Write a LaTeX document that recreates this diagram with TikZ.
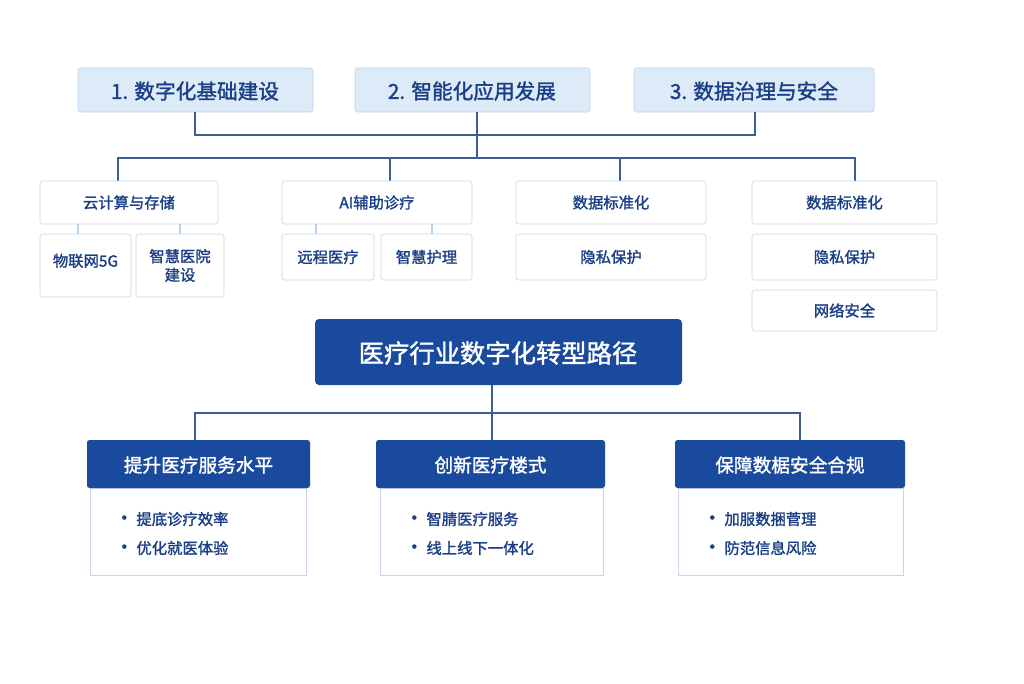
\documentclass[tikz,border=0pt]{standalone}
\usepackage{fontspec}
\setmainfont{Noto Sans CJK SC}[FakeBold=1.5]
\begin{document}
\definecolor{navy}{HTML}{1B3F86}
\definecolor{dblue}{HTML}{1A4A9E}
\definecolor{lblue}{HTML}{DDEBF8}
\definecolor{lbord}{HTML}{B9D0E8}
\definecolor{gbord}{HTML}{C9D6E6}
\definecolor{line}{HTML}{3C5F93}
\begin{tikzpicture}[x=0.75pt,y=-0.75pt,
 top/.style={draw=lbord,fill=lblue,rounded corners=2pt},
 sub/.style={draw=gbord,fill=white,rounded corners=2pt},
 bd/.style={draw=gbord,fill=white},
 ln/.style={draw=line,line width=0.9pt},
 tt/.style={text=navy,font=\fontsize{15.5}{17}\selectfont},
 st/.style={text=navy,font=\fontsize{11.5}{14}\selectfont,align=center}]
\useasboundingbox (0,0) rectangle (1024,683);
\def\bx#1#2#3#4#5#6#7{\path[#2] (#3,#4) rectangle (#5,#6); \node[st] (#1) at ({(#3+#5)/2},{(#4+#6)/2}) {#7};}
% top
\path[top] (78,68) rectangle (313,112); \node[tt] (t1) at (195,91) {1. 数字化基础建设};
\path[top] (355,68) rectangle (590,112); \node[tt] (t2) at (472,91) {2. 智能化应用发展};
\path[top] (634,68) rectangle (874,112); \node[tt] (t3) at (754,91) {3. 数据治理与安全};
\coordinate (j1) at (477,135); \coordinate (j2) at (477,158);
\draw[ln] (195,112) -- (195,135) -- (755,135) -- (755,112);
\draw[ln] (477,112) -- (j1) -- (j2);
\draw[ln] (118,181) -- (118,158) -- (855,158) -- (855,181);
\draw[ln] (390,158) -- (390,181);
\draw[ln] (620,158) -- (620,181);
% row 2
\bx{a}{sub}{40}{181}{218}{224}{云计算与存储}
\bx{b}{sub}{282}{181}{472}{224}{AI辅助诊疗}
\bx{c}{sub}{516}{181}{706}{224}{数据标准化}
\bx{d}{sub}{752}{181}{937}{224}{数据标准化}
\draw[draw=lbord,line width=0.9pt] (78,224)--(78,234) (180,224)--(180,234) (316,224)--(316,234) (432,224)--(432,234);
\bx{a1}{sub}{40}{234}{131}{297}{\raisebox{8pt}{物联网5G}}
\bx{a2}{sub}{136}{234}{224}{297}{智慧医院\\建设}
\bx{b1}{sub}{282}{234}{374}{280}{远程医疗}
\bx{b2}{sub}{381}{234}{472}{280}{智慧护理}
\bx{c1}{sub}{516}{234}{706}{280}{隐私保护}
\bx{d1}{sub}{752}{234}{937}{280}{隐私保护}
\bx{d2}{sub}{752}{290}{937}{331}{网络安全}
% center
\path[fill=dblue,rounded corners=3pt] (315,319) rectangle (682,385);
\node[text=white,font=\fontsize{19}{21}\selectfont] (m) at (498,353) {医疗行业数字化转型路径};
\draw[ln] (492,385) -- (492,413);
\draw[ln] (195,440) -- (195,413) -- (800,413) -- (800,440);
\draw[ln] (492,413) -- (492,440);
% bottom
\foreach \xa/\xb/\xc/\xd/\h/\p/\q [count=\i] in {
 87/310/90/306/提升医疗服务水平/提底诊疗效率/优化就医体验,
 376/605/380/603/创新医疗楼式/智腈医疗服务/线上线下一体化,
 675/905/678/903/保障数椐安全合规/加服数捆菅理/防范信息风险}{
 \path[bd] (\xc,488) rectangle (\xd,575);
 \path[fill=dblue,rounded corners=2pt] (\xa,440) rectangle (\xb,488);
 \node[text=white,font=\fontsize{14}{16}\selectfont] (h\i) at ({(\xa+\xb)/2},465) {\h};
 \node[st,anchor=west] (p\i) at (\xc+20,519) {{\Large\textbullet}\,\p};
 \node[st,anchor=west] (q\i) at (\xc+20,548) {{\Large\textbullet}\,\q};
}
\end{tikzpicture}
\end{document}
